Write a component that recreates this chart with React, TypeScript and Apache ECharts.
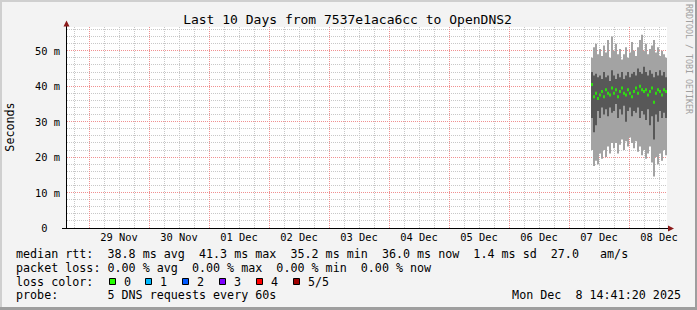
import React, { useEffect, useRef } from 'react';
import * as echarts from 'echarts';

const FONT = '"DejaVu Sans Mono", "Liberation Mono", monospace';

// ---- texts ----
const title = 'Last 10 Days from 7537e1aca6cc to OpenDNS2';
const yAxisTitle = 'Seconds';
const watermark = 'RRDTOOL / TOBI OETIKER';
const dayLabels = ['29 Nov', '30 Nov', '01 Dec', '02 Dec', '03 Dec', '04 Dec', '05 Dec', '06 Dec', '07 Dec', '08 Dec'];
const yTickValues = [0, 10, 20, 30, 40, 50];
const legendLine1 = 'median rtt:  38.8 ms avg  41.3 ms max  35.2 ms min  36.0 ms now  1.4 ms sd  27.0   am/s';
const legendLine2 = 'packet loss: 0.00 % avg  0.00 % max  0.00 % min  0.00 % now';
const lossTitle = 'loss color:';
const lossLabels = ['0', '1', '2', '3', '4', '5/5'];
const lossColors = ['#26ff00', '#00b8ff', '#0059ff', '#7e00ff', '#ff0000', '#a00000'];
const probeLine = 'probe:       5 DNS requests every 60s';
const timestamp = 'Mon Dec  8 14:41:20 2025';

// ---- axes (x in hours since 29 Nov 00:00, y in ms) ----
const xMin = -8.8;
const xMax = 231.2;
const yMin = 0;
const yMax = 56.7;

// ---- samples (one every 48 min, starting 7 Dec 08:48) ----
const sampleStartHour = 200.8;
const sampleStepHours = 0.8;
const pingMin = [22, 17.5, 19, 18, 21, 19.5, 22, 20, 23, 21, 24, 22.5, 24, 21, 23.5, 25, 22, 24.5, 23, 25.5, 24, 22.5, 24.5, 21.5, 23, 20.5, 22, 19.5, 21, 23, 18.5, 14.5, 20, 18, 21, 19, 22, 20.5];
const ping2 = [31, 27, 29, 33, 31, 34, 32, 33.5, 31.5, 34, 32.5, 33, 35, 31, 33.5, 32, 34.5, 30, 33, 34, 31.5, 33, 32.5, 34, 31, 33, 32, 30.5, 33.5, 29, 31.5, 25, 32, 30, 33, 31, 32.5, 31];
const medianRtt = [40.5, 37, 38, 36.5, 37.5, 38.5, 37, 39, 38, 37.5, 39.5, 38, 39, 37, 38.5, 39.5, 38, 37.5, 39, 38, 37, 38.5, 39.5, 38, 40, 39, 38.5, 39, 37.5, 38.5, 39.5, 35.5, 38, 39, 38.5, 37.5, 39, 38.5];
const ping4 = [44, 43, 43.5, 42.5, 43, 42, 44, 42.5, 43, 41.5, 44.5, 43, 42, 43.5, 42.5, 44, 42, 43, 44, 42.5, 43.5, 44, 43, 45, 44, 43.5, 45.5, 44, 43, 44.5, 43.5, 42.5, 44, 43, 44.5, 43, 44, 42.5];
const pingMax = [48, 51, 52, 49, 50.5, 48.5, 51.5, 49.5, 53, 48, 54, 50, 52, 49, 50.5, 47.5, 49, 51, 48, 49.5, 52.5, 50, 48.5, 51, 53, 54.5, 50, 52, 49, 50.5, 51.5, 53, 49.5, 51, 48.5, 50, 49, 48];

const LIGHT_SMOKE = '#a3a3a3';
const DARK_SMOKE = '#585858';
const MINOR_GRID = '#c8c8c8';
const MAJOR_GRID = '#f09090';
const ARROW = '#8b1a1a';

function buildOption() {
  const times = pingMin.map((_, i) => sampleStartHour + (i + 0.5) * sampleStepHours);
  const smokeData = times.map((t, i) => [t, pingMin[i], ping2[i], ping4[i], pingMax[i]]);
  const medianData = times.map((t, i) => [t, medianRtt[i]]);

  const vMinor: number[] = [];
  const vMajor: number[] = [];
  for (let h = Math.ceil(xMin / 6) * 6; h <= xMax; h += 6) {
    if (h % 24 === 0) vMajor.push(h);
    else vMinor.push(h);
  }
  const hMinor: number[] = [];
  const hMajor: number[] = [];
  for (let v = 2; v <= yMax; v += 2) {
    if (v % 10 === 0) hMajor.push(v);
    else hMinor.push(v);
  }
  const labelHours = dayLabels.map((_, i) => 12 + 24 * i);

  const vLine = (color: string) => (_p: any, api: any) => {
    const h = api.value(0);
    const a = api.coord([h, yMin]);
    const b = api.coord([h, yMax]);
    const x = Math.floor(a[0] + 0.01) + 0.5;
    return {
      type: 'line',
      shape: { x1: x, y1: a[1], x2: x, y2: b[1] },
      style: { stroke: color, lineWidth: 1, lineDash: [1, 1] },
    };
  };
  const hLine = (color: string) => (_p: any, api: any) => {
    const v = api.value(1);
    const a = api.coord([xMin, v]);
    const b = api.coord([xMax, v]);
    const y = Math.floor(a[1] + 0.01) + 0.5;
    return {
      type: 'line',
      shape: { x1: a[0], y1: y, x2: b[0], y2: y },
      style: { stroke: color, lineWidth: 1, lineDash: [1, 1] },
    };
  };

  const txt = (text: string, x: number, y: number, extra: any = {}) => ({
    type: 'text',
    x,
    y,
    silent: true,
    z: 100,
    style: {
      text,
      fill: '#000',
      fontFamily: FONT,
      fontSize: 11.7,
      align: 'left',
      verticalAlign: 'middle',
      ...extra,
    },
  });

  const graphic: any[] = [
    // frame
    { type: 'rect', silent: true, shape: { x: 0, y: 0, width: 697, height: 2 }, style: { fill: '#cfcfcf' } },
    { type: 'rect', silent: true, shape: { x: 0, y: 0, width: 2, height: 310 }, style: { fill: '#cfcfcf' } },
    { type: 'rect', silent: true, shape: { x: 0, y: 307, width: 697, height: 3 }, style: { fill: '#9e9e9e' } },
    { type: 'rect', silent: true, shape: { x: 695, y: 0, width: 2, height: 310 }, style: { fill: '#9e9e9e' } },
    // axes
    { type: 'line', silent: true, z: 100, shape: { x1: 62, y1: 228.5, x2: 669, y2: 228.5 }, style: { stroke: '#000', lineWidth: 1 } },
    { type: 'line', silent: true, z: 100, shape: { x1: 66.5, y1: 229, x2: 66.5, y2: 25 }, style: { stroke: '#000', lineWidth: 1 } },
    { type: 'polygon', silent: true, z: 101, shape: { points: [[668, 225.5], [674, 228.5], [668, 231.5]] }, style: { fill: ARROW } },
    { type: 'polygon', silent: true, z: 101, shape: { points: [[63.5, 26.5], [66.5, 20.5], [69.5, 26.5]] }, style: { fill: ARROW } },
    // title etc.
    txt(title, 347.5, 19.5, { align: 'center', fontSize: 13 }),
    { ...txt(yAxisTitle, 10, 127, { align: 'center' }), rotation: Math.PI / 2 },
    { ...txt(watermark, 689, 59, { align: 'center', fontSize: 8.3, fill: '#a0a0a0' }), rotation: -Math.PI / 2 },
    // legend
    txt(legendLine1, 16, 254),
    txt(legendLine2, 16, 267.8),
    txt(lossTitle, 16, 281.6),
    txt(probeLine, 16, 295.4),
    txt(timestamp, 681, 295.4, { align: 'right' }),
  ];
  lossLabels.forEach((lab, k) => {
    const bx = 108.5 + 36.8 * k;
    graphic.push({
      type: 'rect',
      silent: true,
      z: 100,
      shape: { x: Math.round(bx) + 0.5, y: 278.5, width: 6, height: 6 },
      style: { fill: lossColors[k], stroke: '#000', lineWidth: 1 },
    });
    graphic.push(txt(lab, Math.round(bx) + 15, 281.6));
  });

  return {
    animation: false,
    backgroundColor: '#f3f3f3',
    grid: {
      left: 67,
      right: 30,
      top: 27,
      bottom: 82,
      show: true,
      backgroundColor: '#ffffff',
      borderWidth: 0,
      containLabel: false,
    },
    xAxis: {
      type: 'value',
      min: xMin,
      max: xMax,
      axisLine: { show: false },
      axisTick: { show: false },
      splitLine: { show: false },
      axisLabel: {
        customValues: labelHours,
        formatter: (v: number) => dayLabels[Math.round((v - 12) / 24)] ?? '',
        fontFamily: FONT,
        fontSize: 10.4,
        color: '#000',
        margin: 4,
        hideOverlap: false,
      },
    },
    yAxis: {
      type: 'value',
      min: yMin,
      max: yMax,
      axisLine: { show: false },
      axisTick: { show: false },
      splitLine: { show: false },
      axisLabel: {
        customValues: yTickValues,
        formatter: (v: number) => (v === 0 ? '0\u00a0\u00a0' : `${v} m`),
        fontFamily: FONT,
        fontSize: 10.4,
        color: '#000',
        margin: 7,
      },
    },
    graphic,
    series: [
      { type: 'custom', silent: true, z: 1, data: vMinor.map((h) => [h, yMin]), encode: { x: 0, y: 1 }, renderItem: vLine(MINOR_GRID) },
      { type: 'custom', silent: true, z: 1, data: hMinor.map((v) => [xMin, v]), encode: { x: 0, y: 1 }, renderItem: hLine(MINOR_GRID) },
      { type: 'custom', silent: true, z: 1, data: vMajor.map((h) => [h, yMin]), encode: { x: 0, y: 1 }, renderItem: vLine(MAJOR_GRID) },
      { type: 'custom', silent: true, z: 1, data: hMajor.map((v) => [xMin, v]), encode: { x: 0, y: 1 }, renderItem: hLine(MAJOR_GRID) },
      {
        type: 'custom',
        name: 'smoke',
        silent: true,
        z: 3,
        data: smokeData,
        encode: { x: 0, y: [1, 2, 3, 4] },
        renderItem: (_p: any, api: any) => {
          const t = api.value(0);
          const hw = sampleStepHours / 2;
          const lo = api.coord([t - hw, api.value(1)]);
          const hi = api.coord([t + hw, api.value(4)]);
          const dlo = api.coord([t - hw, api.value(2)]);
          const dhi = api.coord([t + hw, api.value(3)]);
          const x0 = Math.round(lo[0]);
          const x1 = Math.round(hi[0]);
          return {
            type: 'group',
            children: [
              { type: 'rect', shape: { x: x0, y: hi[1], width: x1 - x0, height: lo[1] - hi[1] }, style: { fill: LIGHT_SMOKE } },
              { type: 'rect', shape: { x: x0, y: dhi[1], width: x1 - x0, height: dlo[1] - dhi[1] }, style: { fill: DARK_SMOKE } },
            ],
          };
        },
      },
      {
        type: 'scatter',
        name: 'median rtt',
        silent: true,
        z: 5,
        symbol: 'rect',
        symbolSize: [2, 3],
        itemStyle: { color: lossColors[0] },
        data: medianData,
      },
    ],
  };
}

export default function App() {
  const ref = useRef<HTMLDivElement>(null);
  useEffect(() => {
    const el = ref.current;
    if (!el) return;
    const chart = echarts.init(el, null, { renderer: 'svg' });
    chart.setOption(buildOption() as any);
    return () => chart.dispose();
  }, []);
  return <div ref={ref} style={{ position: 'absolute', left: 0, top: 0, width: 697, height: 310 }} />;
}
